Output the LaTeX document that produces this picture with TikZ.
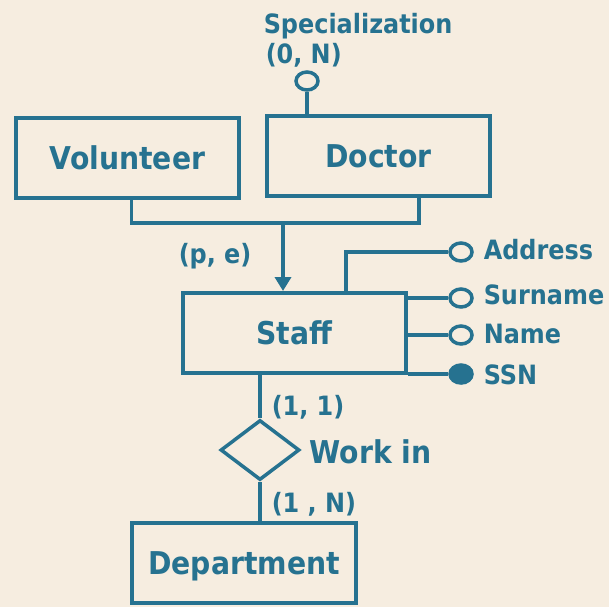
\documentclass[tikz,border=0pt]{standalone}
\usepackage{fontspec}
\setmainfont{DejaVu Sans Condensed}
\usepackage{tikz}
\usetikzlibrary{shapes.geometric, arrows.meta}
\definecolor{erblu}{RGB}{38,114,144}
\definecolor{sfondo}{RGB}{246,237,224}

\begin{document}
\begin{tikzpicture}[x=0.5pt, y=-0.5pt, line width=1.75pt, color=erblu,
		>={Triangle[length=7pt, width=8pt]},
		entita/.style={rectangle, draw, line width=2pt, font=\bfseries\fontsize{15.7}{18}\selectfont, text height=11.4pt, text depth=0pt, minimum width=111.5pt, minimum height=40pt},
		relazione/.style={diamond, draw, inner sep=0pt, minimum width=39.5pt, minimum height=30pt},
		attributo/.style={ellipse, draw, fill=sfondo, inner sep=0pt, minimum width=11pt, minimum height=9pt},
		etichetta/.style={anchor=base west, inner sep=0pt, font=\bfseries\fontsize{13.3}{16}\selectfont}]
		% Sfondo
		\fill[sfondo] (0,0) rectangle (609,607);
		\useasboundingbox (0,0) rectangle (609,607);
		
		% Definizione dei nodi
		\node[entita] (volunteer) at (127.5,158) {Volunteer};
		\node[entita] (doctor) at (378.5,156) {Doctor};
		\node[entita] (staff) at (294.5,333) {Staff};
		\node[entita, minimum width=112pt] (department) at (244,563) {Department};
		\node[relazione] (workin) at (260,450) {};
		
		% Attributi
		\node[attributo] (specialization) at (307,81) {};
		\node[attributo] (address) at (461,252) {};
		\node[attributo] (surname) at (461,298) {};
		\node[attributo] (name) at (461,335) {};
		\node[attributo, fill=erblu] (ssn) at (461,374) {};
		
		% Etichette
		\node[etichetta] (speclabel) at (262,33) {Specialization};
		\node[etichetta] (speccard) at (264,63) {(0, N)};
		\node[etichetta] (addresslabel) at (482,259) {Address};
		\node[etichetta] (surnamelabel) at (482,304) {Surname};
		\node[etichetta] (namelabel) at (482,343) {Name};
		\node[etichetta] (ssnlabel) at (482,384) {SSN};
		\node[etichetta] (copertura) at (177,263) {(p, e)};
		\node[etichetta] (staffcard) at (270,415) {(1, 1)};
		\node[etichetta, font=\bfseries\fontsize{15.7}{18}\selectfont] (workinlabel) at (308,463) {Work in};
		\node[etichetta] (deptcard) at (270,512) {(1 , N)};
		
		% Collegamenti
		\coordinate (isa) at (283,223);
		\draw ([xshift=2pt]volunteer.south) |- (isa) -| ([xshift=20.25pt]doctor.south);
		\draw[->] (isa) -- (isa |- staff.north);
		\draw (specialization) -- (specialization |- doctor.north);
		\draw ([xshift=25.75pt]staff.north) |- (address);
		\draw (staff.east |- surname) -- (surname);
		\draw (staff.east |- name) -- (name);
		\draw (staff.east |- ssn) -- (ssn);
		\draw (staff.south -| workin) -- (workin.north);
		\draw (workin.south) -- (workin.south |- department.north);
	\end{tikzpicture}
\end{document}
